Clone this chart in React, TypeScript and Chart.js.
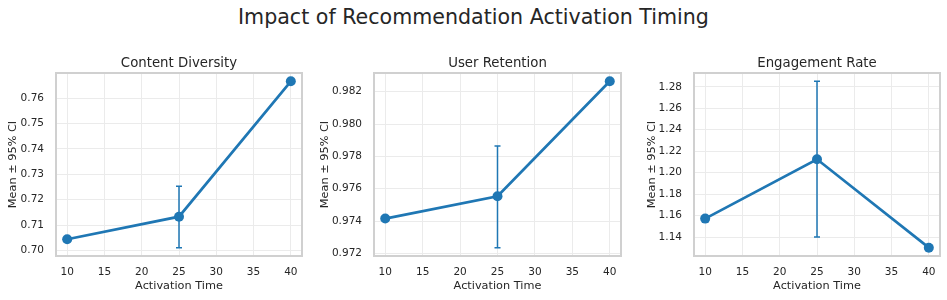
import React, { useEffect, useRef } from "react";
import { Chart, registerables } from "chart.js";

Chart.register(...registerables);

const activationTimes = [10, 25, 40];
const xTickValues = [10, 15, 20, 25, 30, 35, 40];

const diversityMean = [0.7044, 0.7133, 0.7666];
const diversityLow = [null, 0.7011, null];
const diversityHigh = [null, 0.7253, null];
const diversityTicks = [0.7, 0.71, 0.72, 0.73, 0.74, 0.75, 0.76];

const retentionMean = [0.97415, 0.97553, 0.98264];
const retentionLow = [null, 0.97235, null];
const retentionHigh = [null, 0.97864, null];
const retentionTicks = [0.972, 0.974, 0.976, 0.978, 0.98, 0.982];

const engagementMean = [1.1572, 1.2125, 1.1301];
const engagementLow = [null, 1.14, null];
const engagementHigh = [null, 1.2851, null];
const engagementTicks = [1.14, 1.16, 1.18, 1.2, 1.22, 1.24, 1.26, 1.28];

const mainTitle = "Impact of Recommendation Activation Timing";
const xLabel = "Activation Time";
const yLabel = "Mean ± 95% CI";

const BLUE = "#1f77b4";
const TEXT = "#262626";
const FONT = "'DejaVu Sans', sans-serif";

type Panel = {
  title: string;
  mean: number[];
  low: (number | null)[];
  high: (number | null)[];
  ticks: number[];
  decimals: number;
  left: number;
  width: number;
  yWidth: number;
};

const panels: Panel[] = [
  { title: "Content Diversity", mean: diversityMean, low: diversityLow, high: diversityHigh, ticks: diversityTicks, decimals: 2, left: 0, width: 309, yWidth: 56 },
  { title: "User Retention", mean: retentionMean, low: retentionLow, high: retentionHigh, ticks: retentionTicks, decimals: 3, left: 312, width: 316, yWidth: 62 },
  { title: "Engagement Rate", mean: engagementMean, low: engagementLow, high: engagementHigh, ticks: engagementTicks, decimals: 2, left: 639, width: 308, yWidth: 55 },
];

const CANVAS_TOP = 40;
const CANVAS_H = 260;

function PanelChart({ p }: { p: Panel }) {
  const ref = useRef<HTMLCanvasElement | null>(null);
  useEffect(() => {
    if (!ref.current) return;
    const vals: number[] = [...p.mean];
    p.low.forEach((v) => v != null && vals.push(v));
    p.high.forEach((v) => v != null && vals.push(v));
    const lo = Math.min(...vals);
    const hi = Math.max(...vals);
    const pad = (hi - lo) * 0.05;
    const xLo = Math.min(...activationTimes);
    const xHi = Math.max(...activationTimes);
    const xPad = (xHi - xLo) * 0.05;

    const framePlugin = {
      id: "frameAndErrors",
      beforeDatasetsDraw(chart: any) {
        const { ctx, chartArea, scales } = chart;
        ctx.save();
        ctx.strokeStyle = "#d0d0d0";
        ctx.lineWidth = 2;
        ctx.strokeRect(chartArea.left, chartArea.top, chartArea.right - chartArea.left, chartArea.bottom - chartArea.top);
        ctx.strokeStyle = BLUE;
        ctx.lineWidth = 1.5;
        activationTimes.forEach((t, i) => {
          const l = p.low[i];
          const h = p.high[i];
          if (l == null || h == null) return;
          const x = scales.x.getPixelForValue(t);
          const y1 = scales.y.getPixelForValue(l);
          const y2 = scales.y.getPixelForValue(h);
          ctx.beginPath();
          ctx.moveTo(x, y1);
          ctx.lineTo(x, y2);
          ctx.moveTo(x - 3, y1);
          ctx.lineTo(x + 3, y1);
          ctx.moveTo(x - 3, y2);
          ctx.lineTo(x + 3, y2);
          ctx.stroke();
        });
        ctx.restore();
      },
      afterDraw(chart: any) {
        const { ctx, chartArea } = chart;
        ctx.save();
        ctx.fillStyle = TEXT;
        ctx.font = `13.3px ${FONT}`;
        ctx.textAlign = "center";
        ctx.textBaseline = "middle";
        ctx.fillText(p.title, (chartArea.left + chartArea.right) / 2, 24);
        ctx.restore();
      },
    };

    const chart = new Chart(ref.current, {
      type: "line",
      data: {
        datasets: [
          {
            data: activationTimes.map((t, i) => ({ x: t, y: p.mean[i] })),
            borderColor: BLUE,
            backgroundColor: BLUE,
            borderWidth: 2.7,
            pointRadius: 5,
            pointBorderWidth: 0,
            pointBackgroundColor: BLUE,
            clip: false as any,
          },
        ],
      },
      options: {
        responsive: false,
        animation: false,
        events: [],
        layout: { padding: { left: 0, right: 7, top: 33, bottom: 0 } },
        plugins: {
          legend: { display: false },
          tooltip: { enabled: false },
          title: { display: false },
        },
        scales: {
          x: {
            type: "linear",
            min: xLo - xPad,
            max: xHi + xPad,
            afterBuildTicks: (s: any) => {
              s.ticks = xTickValues.map((v) => ({ value: v }));
            },
            afterFit: (s: any) => {
              s.height = 44;
            },
            grid: { color: "#ebebeb", lineWidth: 1, drawTicks: false },
            border: { display: false },
            ticks: {
              color: TEXT,
              font: { family: FONT, size: 10.5 },
              padding: 10,
              maxRotation: 0,
              callback: (v: any) => String(v),
            },
            title: {
              display: true,
              text: xLabel,
              color: TEXT,
              font: { family: FONT, size: 11.3 },
              padding: { top: 0, bottom: 6.8 },
            },
          },
          y: {
            type: "linear",
            min: lo - pad,
            max: hi + pad,
            afterBuildTicks: (s: any) => {
              s.ticks = p.ticks.map((v) => ({ value: v }));
            },
            afterFit: (s: any) => {
              s.width = p.yWidth;
            },
            grid: { color: "#ebebeb", lineWidth: 1, drawTicks: false },
            border: { display: false },
            ticks: {
              color: TEXT,
              font: { family: FONT, size: 10.5 },
              padding: 12,
              callback: (v: any) => Number(v).toFixed(p.decimals),
            },
            title: {
              display: true,
              text: yLabel,
              color: TEXT,
              font: { family: FONT, size: 11.3 },
              padding: { top: 5.9, bottom: 0 },
            },
          },
        },
      },
      plugins: [framePlugin],
    } as any);
    return () => chart.destroy();
  }, [p]);

  return (
    <canvas
      ref={ref}
      width={p.width}
      height={CANVAS_H}
      style={{ position: "absolute", left: p.left, top: CANVAS_TOP, width: p.width, height: CANVAS_H }}
    />
  );
}

export default function App() {
  return (
    <div style={{ position: "absolute", left: 0, top: 0, width: 947, height: 300, background: "#ffffff", overflow: "hidden" }}>
      <div
        style={{
          position: "absolute",
          left: 0,
          top: 2,
          width: 947,
          textAlign: "center",
          fontFamily: FONT,
          fontSize: "20.6px",
          lineHeight: "30px",
          color: TEXT,
        }}
      >
        {mainTitle}
      </div>
      {panels.map((p, i) => (
        <PanelChart key={i} p={p} />
      ))}
    </div>
  );
}
